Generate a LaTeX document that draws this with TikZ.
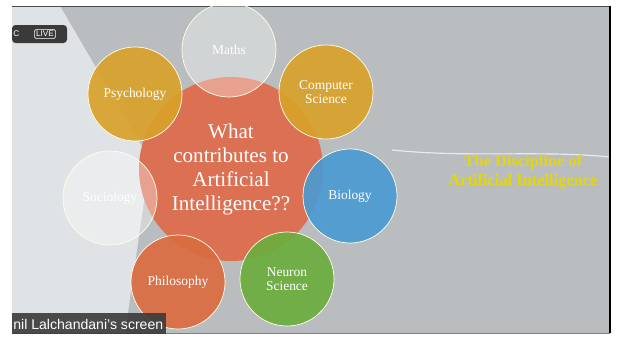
\documentclass[tikz,border=0pt]{standalone}
\usepackage{fontspec}
\setmainfont{Liberation Serif}
\setsansfont{Liberation Sans}
\usepackage{tikz}
\usetikzlibrary{shapes,positioning,calc}

\definecolor{slidegray}{HTML}{B9BDC0}
\definecolor{slidelight}{HTML}{DFE3E5}
\definecolor{aiorange}{HTML}{DC7052}
\definecolor{aigold}{HTML}{D9A12C}
\definecolor{aiblue}{HTML}{4C9BD3}
\definecolor{aired}{HTML}{DA6C40}
\definecolor{aigreen}{HTML}{6DAD3D}
\definecolor{aiyellow}{HTML}{E3D70C}
\definecolor{barbg}{HTML}{3A3A3A}

\begin{document}
\begin{tikzpicture}
[
	x=0.03cm, y=-0.03cm,
	topic/.style={circle,draw=white!90!yellow,line width=0.6pt,minimum size=2.82cm,
		text=white,align=center,font=\fontsize{11.5}{12.5}\selectfont,fill opacity=0.92,text opacity=1},
	pale/.style={topic,fill=white,fill opacity=0.35},
]
	\useasboundingbox (0,0) rectangle (619,336);
	\fill[white] (0,0) rectangle (619,336);

	% slide background
	\begin{scope}
		\fill[slidegray] (12,6) rectangle (610,333);
		\fill[slidelight] (12,6) -- (60,6) -- (150,160) -- (125,333) -- (12,333) -- cycle;
		\draw[white,opacity=0.7,line width=1pt] (392,150) .. controls (470,158) and (540,150) .. (610,157);
		\draw[black!70,line width=0.4pt] (12,6) -- (610,6);
		\draw[black,line width=1.2pt] (610,6) -- (610,333);
		\draw[black!50,line width=0.4pt] (12,333) -- (610,333);
	\end{scope}

	% centre and topics
	\node[circle,fill=aiorange,minimum size=5.52cm] (centre) at (231,169) {};
	\node[pale] (maths) at (229,50) {Maths};
	\node[topic,fill=aigold] (psych) at (135,94) {Psychology};
	\node[topic,fill=aigold] (cs) at (326,92) {Computer\\Science};
	\node[pale] (socio) at (110,198) {Sociology};
	\node[topic,fill=aiblue] (bio) at (350,196) {Biology};
	\node[topic,fill=aired] (philo) at (178,282) {Philosophy};
	\node[topic,fill=aigreen] (neuron) at (287,279) {Neuron\\Science};

	\node[text=white,align=center,font=\fontsize{18}{20.5}\selectfont] (question) at (231,169)
		{What\\contributes to\\Artificial\\Intelligence??};

	\node[text=aiyellow,align=center,font=\bfseries\fontsize{14}{17}\selectfont] (discipline) at (523,172)
		{The Discipline of\\Artificial Intelligence};

	% overlays of the screen share
	\begin{scope}
		\fill[barbg,rounded corners=3pt] (12,25) rectangle (67,43);
		\node[text=white,font=\sffamily\fontsize{7}{8}\selectfont,anchor=west,inner sep=1pt] (cam) at (12,34) {C};
		\node[draw=white!70,rounded corners=1.5pt,text=white,inner sep=1.5pt,
			font=\sffamily\fontsize{7}{8}\selectfont] (live) at (45,34) {LIVE};
		\fill[barbg,opacity=0.9] (12,313) rectangle (166,334);
		\node[text=white,anchor=west,inner sep=1pt,font=\sffamily\fontsize{12}{13}\selectfont] (screen) at (12,324)
			{nil Lalchandani's screen};
	\end{scope}
\end{tikzpicture}
\end{document}
